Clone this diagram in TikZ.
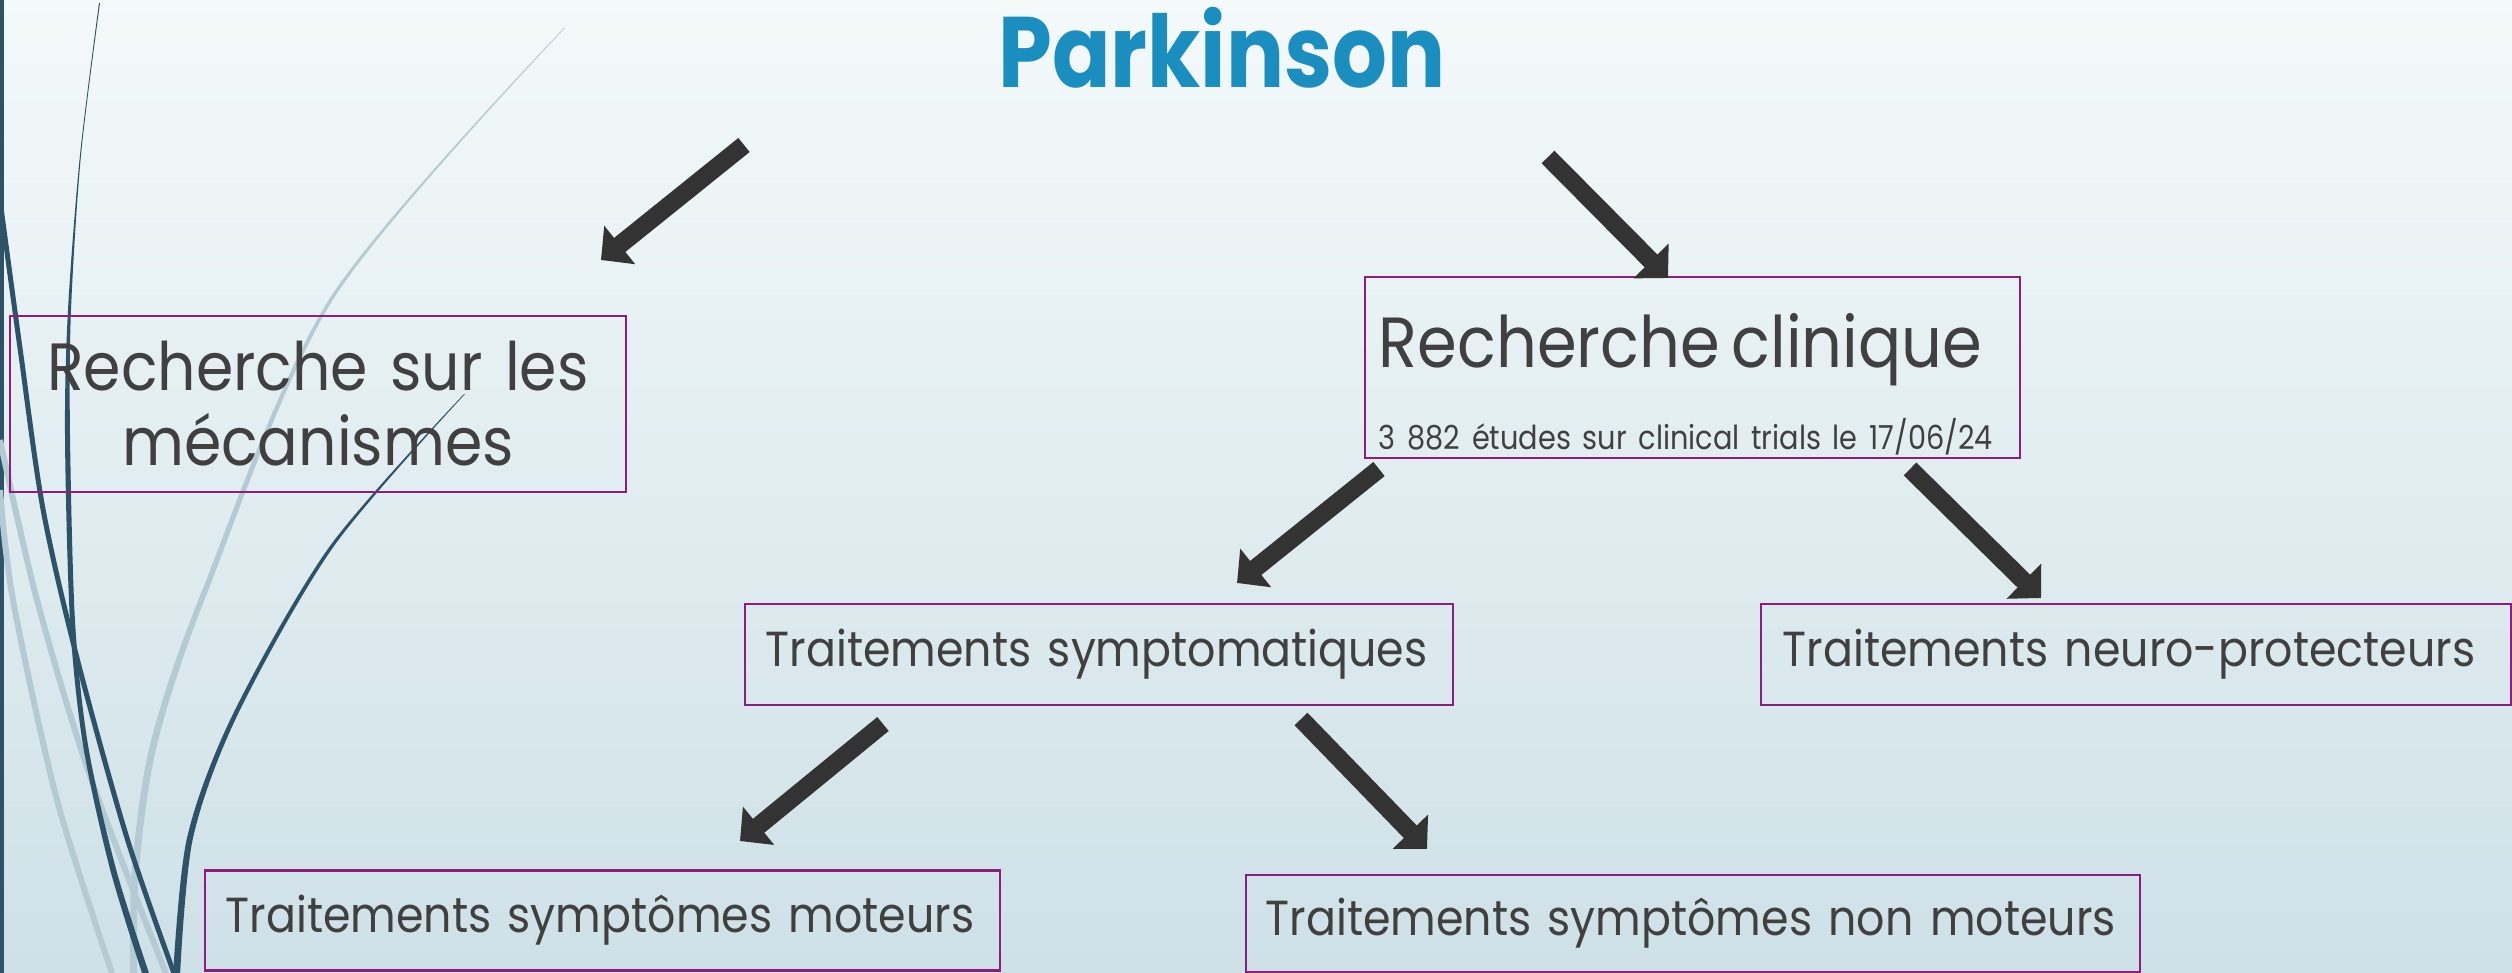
\documentclass[tikz,border=0pt]{standalone}
\usepackage{fontspec}
\setmainfont{Poppins}[FakeStretch=0.9]
\newfontfamily\titlefont{Poppins}[FakeStretch=0.86]
\newfontfamily\narrowfont{Poppins}[FakeStretch=0.87]
\usetikzlibrary{arrows.meta}
\definecolor{titleblue}{HTML}{1B8EC0}
\definecolor{txtgray}{HTML}{404040}
\definecolor{boxpurple}{HTML}{8E1E7E}
\definecolor{arrowgray}{HTML}{333333}
\definecolor{swdark}{HTML}{2E5268}
\definecolor{swlight}{HTML}{B5CBD3}
\definecolor{bgtop}{HTML}{F4F9FA}
\definecolor{bgbot}{HTML}{CEE1E7}
\tikzset{
	txtbox/.style={draw=boxpurple, line width=0.6pt, text=txtgray, inner ysep=0pt},
	bigtxt/.style={font=\fontsize{19pt}{21.3pt}\selectfont},
	midtxt/.style={font=\fontsize{14pt}{15.5pt}\selectfont},
	fatarrow/.style={draw=arrowgray, line width=0.18cm, -{Triangle[length=0.24cm,width=0.48cm]}},
}
\begin{document}
\begin{tikzpicture}[x=0.01cm, y=-0.01cm]
	\useasboundingbox (0,0) rectangle (2512,973);
	\shade[top color=bgtop, bottom color=bgbot] (0,0) rectangle (2512,973);
	\fill[swdark] (0,0) rectangle (4,973);
	\draw[swlight, line width=0.06cm] plot[smooth] coordinates {(0,490) (13,600) (57,800) (113,976)};
	\draw[swlight, line width=0.06cm] plot[smooth] coordinates {(0,440) (37,600) (90,776) (167,976)};
	\fill[swlight] plot[smooth] coordinates {(564,28) (330,298) (200,596) (150,745) (132,869) (130,976)} -- plot[smooth] coordinates {(137,976) (139,869) (157,745) (206,596) (334,298) (565,28)} -- cycle;
	\fill[swdark] plot[smooth] coordinates {(99,3) (80,155) (68,310) (65,435) (70,621) (83,745) (110,869) (143,976)} -- plot[smooth] coordinates {(150,976) (116,869) (88,745) (75,621) (70,435) (71,310) (81,155) (100,3)} -- cycle;
	\draw[swdark, line width=0.05cm] plot[smooth] coordinates {(0,200) (20,348) (43,509) (77,658) (127,838) (175,976)};
	\fill[swdark] plot[smooth] coordinates {(464,394) (330,546) (233,714) (187,838) (173,976)} -- plot[smooth] coordinates {(180,976) (193,838) (238,714) (334,546) (465,394)} -- cycle;

	\node[font={\titlefont\bfseries\fontsize{28.5pt}{30pt}\selectfont}, text=titleblue, anchor=base] (parkinson) at (1222,88) {Parkinson};

	\node[txtbox, bigtxt, inner xsep=0.1cm, text width=5.96cm, minimum height=1.76cm, align=center] (mecanismes) at (318,404) {Recherche sur les\\m\'ecanismes};
	\node[txtbox, inner xsep=0.14cm, text width=6.27cm, minimum height=1.81cm, align=left] (clinique) at (1692.5,367.5) {\fontsize{20.2pt}{22pt}\selectfont\rule{0pt}{25pt}Recherche clinique\\[8.3pt]\narrowfont\fontsize{9.4pt}{11pt}\selectfont 3 882 \'etudes sur clinical trials le 17/06/24};
	\node[txtbox, midtxt, inner xsep=0.21cm, text width=6.66cm, minimum height=1.01cm, align=left] (symptomatiques) at (1099,654.5) {Traitements symptomatiques};
	\node[txtbox, midtxt, inner xsep=0.22cm, text width=7.06cm, minimum height=1.01cm, align=left] (neuro) at (2136,654.5) {Traitements neuro-protecteurs};
	\node[txtbox, midtxt, inner xsep=0.21cm, text width=7.53cm, minimum height=1.0cm, align=left] (moteurs) at (602.5,920.5) {Traitements sympt\^omes moteurs};
	\node[txtbox, midtxt, inner xsep=0.2cm, text width=8.54cm, minimum height=0.97cm, align=left] (nonmoteurs) at (1693,923.5) {Traitements sympt\^omes non moteurs};

	\coordinate (meca-tail) at (744,145);
	\coordinate (meca-tip) at (601,260);
	\coordinate (clin-tail) at (1548,157);
	\coordinate (clin-tip) at (1668,278);
	\coordinate (sympt-tail) at (1379,469);
	\coordinate (sympt-tip) at (1237,583);
	\coordinate (neuro-tail) at (1910,469);
	\coordinate (neuro-tip) at (2041,598);
	\coordinate (mot-tail) at (883,724);
	\coordinate (mot-tip) at (740,841);
	\coordinate (nonmot-tail) at (1301,719);
	\coordinate (nonmot-tip) at (1427,849);
	\draw[fatarrow] (meca-tail) -- (meca-tip);
	\draw[fatarrow] (clin-tail) -- (clin-tip);
	\draw[fatarrow] (sympt-tail) -- (sympt-tip);
	\draw[fatarrow] (neuro-tail) -- (neuro-tip);
	\draw[fatarrow] (mot-tail) -- (mot-tip);
	\draw[fatarrow] (nonmot-tail) -- (nonmot-tip);
\end{tikzpicture}
\end{document}
